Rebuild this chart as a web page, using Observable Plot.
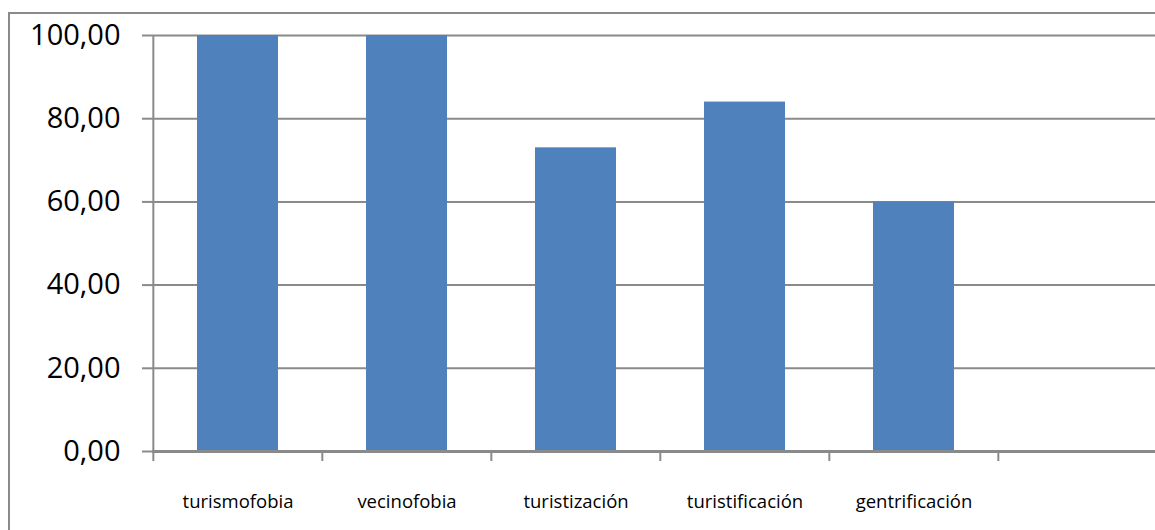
<!DOCTYPE html>
<html>
<head>
<meta charset="utf-8">
<script src="https://cdn.jsdelivr.net/npm/d3@7"></script>
<script src="https://cdn.jsdelivr.net/npm/@observablehq/plot@0.6"></script>
<style>
  html, body { margin: 0; padding: 0; background: #fff; overflow: hidden; }
  #wrap { position: relative; width: 1155px; height: 530px; }
  #border { position: absolute; left: 8px; top: 12px; width: 1200px; height: 600px;
            border-top: 2px solid #8a8a8a; border-left: 2px solid #8a8a8a; pointer-events: none; }
  #chart { position: absolute; left: 0; top: 0; }
</style>
</head>
<body>
<div id="wrap"><div id="chart"></div><div id="border"></div></div>
<script>
const categories = ["turismofobia", "vecinofobia", "turistización", "turistificación", "gentrificación", " "];
const values = [100, 100, 73, 84, 60];
const yTicks = [0, 20, 40, 60, 80, 100];

const data = values.map((v, i) => ({cat: categories[i], value: v}));

const W = 1155, H = 530;
const left = 152, right = 1168;
const step = (right - left) / categories.length;
const fmt = d => d.toFixed(2).replace(".", ",");
const gray = "#8a8a8a";

const chart = Plot.plot({
  width: W,
  height: H,
  marginLeft: left,
  marginRight: 0,
  marginTop: 35,
  marginBottom: 79,
  style: {fontFamily: "'Open Sans', sans-serif", background: "white", overflow: "visible"},
  x: {domain: categories, range: [left, right], paddingInner: 0.52, paddingOuter: 0.26, label: null},
  y: {domain: [0, 100], label: null},
  marks: [
    Plot.ruleY(yTicks.filter(d => d > 0), {stroke: gray, strokeWidth: 2}),
    Plot.barY(data, {x: "cat", y: "value", fill: "#4f81bd"}),
    Plot.ruleY([0], {stroke: gray, strokeWidth: 3}),
    Plot.ruleX([categories[0]], {y1: 0, y2: 100, dx: -step / 2, stroke: gray, strokeWidth: 2}),
    Plot.axisY({ticks: yTicks, tickSize: 10, tickPadding: 22, tickFormat: fmt,
                fontSize: 29, stroke: gray, strokeWidth: 2, fill: "black", label: null}),
    Plot.axisX({tickSize: 10, dx: -step / 2, tickFormat: () => "", stroke: gray, strokeWidth: 2, label: null}),
    Plot.axisX(categories.slice(0, 5), {tickSize: 0, tickPadding: 43, fontSize: 18.5, fill: "black", label: null})
  ]
});
document.getElementById("chart").appendChild(chart);
</script>
</body>
</html>
